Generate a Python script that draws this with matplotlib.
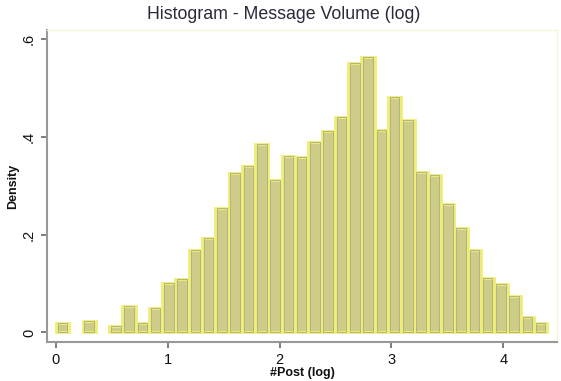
import matplotlib
matplotlib.use("Agg")
import matplotlib.pyplot as plt
import numpy as np

# histogram of log10(#posts), 37 bins from 0 to ~4.394
bin_lo = 0.0
bin_hi = 4.394
density = [0.020, 0.0, 0.023, 0.0, 0.013, 0.055, 0.020, 0.050, 0.102, 0.110,
           0.168, 0.194, 0.255, 0.325, 0.340, 0.385, 0.312, 0.361, 0.359, 0.389,
           0.412, 0.440, 0.550, 0.564, 0.414, 0.481, 0.434, 0.327, 0.321, 0.262,
           0.214, 0.169, 0.112, 0.100, 0.074, 0.031, 0.020]
xticks = [0, 1, 2, 3, 4]
yticks = [0, 0.2, 0.4, 0.6]
ytick_labels = ["0", ".2", ".4", ".6"]

plt.rcParams['font.family'] = ['Liberation Sans', 'DejaVu Sans']

fig = plt.figure(figsize=(5.61, 3.81), dpi=100)
ax = fig.add_axes([0.0838, 0.103, 0.909, 0.818])

edges = np.linspace(bin_lo, bin_hi, len(density) + 1)
w = edges[1] - edges[0]
h = np.array(density)
keep = h > 0  # empty bins draw nothing
left = edges[:-1][keep]
h = h[keep]
ax.bar(left, h, width=w, align='edge', color='#cdcc88',
       edgecolor='#eeee78', linewidth=2.0, zorder=2)
# thin darker inner outline like Stata's bars
ax.bar(left + w * 0.5, h, width=w * 0.72, align='center', fill=False,
       edgecolor='#b4b47e', linewidth=0.7, zorder=3)

ax.set_xlim(-0.08, 4.48)
ax.set_ylim(-0.019, 0.618)

ax.set_xticks(xticks)
ax.set_xticklabels([str(t) for t in xticks], fontsize=10.5, color='#111111')
ax.set_yticks(yticks)
ax.set_yticklabels(ytick_labels, fontsize=10.5, color='#111111', rotation=90,
                   va='center')

for s in ['left', 'bottom']:
    ax.spines[s].set_color('#999999')
    ax.spines[s].set_linewidth(1.5)
for s in ['top', 'right']:
    ax.spines[s].set_color('#f6f6dc')
    ax.spines[s].set_linewidth(1.0)
ax.tick_params(axis='both', direction='out', length=4, width=1.2,
               color='#666666', pad=4)

ax.set_xlabel("#Post (log)", fontsize=9, fontweight='bold', color='#111111',
              labelpad=0)
ax.set_ylabel("Density", fontsize=9, fontweight='bold', color='#111111',
              labelpad=2)
fig.suptitle("Histogram - Message Volume (log)", x=0.505, y=0.985,
             fontsize=12.8, color='#2a2a3a')

fig.savefig("out.png", dpi=100)
